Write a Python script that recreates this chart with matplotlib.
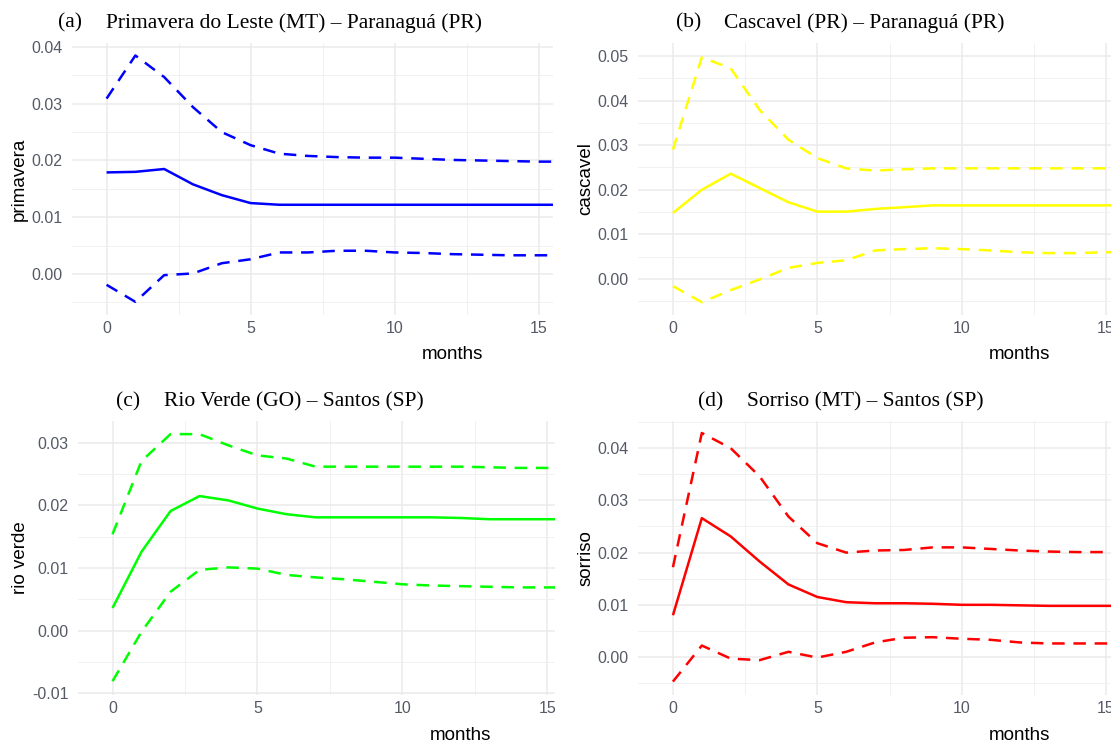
import numpy as np
import matplotlib
matplotlib.use("Agg")
import matplotlib.pyplot as plt
from matplotlib.ticker import MultipleLocator, FuncFormatter

# Data (impulse responses)
months = list(range(17))

a_mid = [0.0179, 0.0180, 0.0185, 0.0158, 0.0139, 0.0125, 0.0122, 0.0122, 0.0122, 0.0122,
         0.0122, 0.0122, 0.0122, 0.0122, 0.0122, 0.0122, 0.0122]
a_up = [0.0309, 0.0385, 0.0347, 0.0294, 0.0250, 0.0227, 0.0212, 0.0208, 0.0206, 0.0205,
        0.0205, 0.0203, 0.0201, 0.0200, 0.0199, 0.0198, 0.0198]
a_lo = [-0.0019, -0.0049, -0.0002, 0.0001, 0.0019, 0.0026, 0.0038, 0.0038, 0.0041, 0.0041,
        0.0038, 0.0037, 0.0035, 0.0034, 0.0033, 0.0033, 0.0033]

b_mid = [0.0148, 0.0200, 0.0236, 0.0204, 0.0172, 0.0151, 0.0151, 0.0157, 0.0161, 0.0165,
         0.0165, 0.0165, 0.0165, 0.0165, 0.0165, 0.0165, 0.0165]
b_up = [0.0290, 0.0497, 0.0472, 0.0379, 0.0312, 0.0271, 0.0248, 0.0243, 0.0246, 0.0248,
        0.0248, 0.0248, 0.0248, 0.0248, 0.0248, 0.0248, 0.0248]
b_lo = [-0.0016, -0.0052, -0.0025, -0.0001, 0.0025, 0.0036, 0.0042, 0.0064, 0.0067, 0.0069,
        0.0067, 0.0064, 0.0060, 0.0058, 0.0058, 0.0060, 0.0060]

c_mid = [0.0036, 0.0126, 0.0191, 0.0215, 0.0208, 0.0195, 0.0186, 0.0181, 0.0181, 0.0181,
         0.0181, 0.0181, 0.0180, 0.0178, 0.0178, 0.0178, 0.0178]
c_up = [0.0154, 0.0271, 0.0314, 0.0314, 0.0296, 0.0280, 0.0275, 0.0262, 0.0262, 0.0262,
        0.0262, 0.0262, 0.0262, 0.0261, 0.0260, 0.0260, 0.0260]
c_lo = [-0.0081, -0.0002, 0.0062, 0.0097, 0.0101, 0.0099, 0.0089, 0.0085, 0.0082, 0.0078,
        0.0074, 0.0072, 0.0071, 0.0070, 0.0069, 0.0069, 0.0069]

d_mid = [0.0080, 0.0266, 0.0231, 0.0183, 0.0139, 0.0115, 0.0105, 0.0103, 0.0103, 0.0102,
         0.0100, 0.0100, 0.0099, 0.0098, 0.0098, 0.0098, 0.0098]
d_up = [0.0172, 0.0429, 0.0400, 0.0346, 0.0269, 0.0218, 0.0200, 0.0204, 0.0205, 0.0210,
        0.0210, 0.0207, 0.0204, 0.0202, 0.0201, 0.0201, 0.0201]
d_lo = [-0.0047, 0.0022, -0.0003, -0.0006, 0.0010, -0.0001, 0.0010, 0.0028, 0.0037, 0.0038,
        0.0035, 0.0033, 0.0028, 0.0026, 0.0026, 0.0026, 0.0026]

W, H = 1111, 740

# letter, title, ylabel, colour, series, panel box in pixels (l, r, top, bottom), xlim, ylim
panels = [
    ("(a)", "Primavera do Leste (MT) \u2013 Paranaguá (PR)", "primavera", "#0000FF",
     (a_mid, a_up, a_lo), (72, 553, 43, 315), (-1.2, 15.5), (-0.00722, 0.0407),
     (58, 106, 23)),
    ("(b)", "Cascavel (PR) \u2013 Paranaguá (PR)", "cascavel", "#FFFF00",
     (b_mid, b_up, b_lo), (638, 1111, 43, 315), (-1.21, 15.17), (-0.00807, 0.0529),
     (676, 724, 23)),
    ("(c)", "Rio Verde (GO) \u2013 Santos (SP)", "rio verde", "#00FF00",
     (c_mid, c_up, c_lo), (78, 555, 421, 695), (-1.19, 15.26), (-0.0103, 0.0335),
     (116, 164, 402)),
    ("(d)", "Sorriso (MT) \u2013 Santos (SP)", "sorriso", "#FF0000",
     (d_mid, d_up, d_lo), (638, 1111, 421, 695), (-1.21, 15.17), (-0.00727, 0.0452),
     (698, 747, 402)),
]

fig = plt.figure(figsize=(W / 100, H / 100), dpi=100)
fig.patch.set_facecolor("white")

for letter, title, ylab, col, series, box, xl, yl, tpos in panels:
    l, r, t, b = box
    ax = fig.add_axes([l / W, 1 - b / H, (r - l) / W, (b - t) / H])
    mid, up, lo = series

    # solid = response, dashed = confidence band
    ax.plot(months, mid, color=col, lw=1.8, solid_capstyle="butt")
    ax.plot(months, up, color=col, lw=1.8, dashes=(5, 3.5))
    ax.plot(months, lo, color=col, lw=1.8, dashes=(5, 3.5))

    ax.set_xlim(*xl)
    ax.set_ylim(*yl)

    # theme_minimal look
    for s in ax.spines.values():
        s.set_visible(False)
    ax.xaxis.set_major_locator(MultipleLocator(5))
    ax.xaxis.set_minor_locator(MultipleLocator(2.5))
    ax.yaxis.set_major_locator(MultipleLocator(0.01))
    ax.yaxis.set_minor_locator(MultipleLocator(0.005))
    ax.yaxis.set_major_formatter(FuncFormatter(lambda v, p: f"{v:.2f}"))
    ax.grid(True, which="major", color="#EBEBEB", lw=1.1)
    ax.grid(True, which="minor", color="#EFEFEF", lw=0.6)
    ax.set_axisbelow(True)
    ax.tick_params(which="both", length=0)
    ax.tick_params(axis="y", pad=7, labelsize=11.5, labelcolor="#555A66")
    ax.tick_params(axis="x", pad=4, labelsize=11.5, labelcolor="#555A66")
    for lab in ax.get_xticklabels() + ax.get_yticklabels():
        lab.set_family("Liberation Sans")

    # axis titles
    ax.set_ylabel(ylab, fontsize=13.5, family="Liberation Sans", labelpad=2)
    ax.set_xlabel("months", fontsize=13.5, family="Liberation Sans")
    ax.xaxis.set_label_coords((12 - xl[0]) / (xl[1] - xl[0]), -0.115)

    # panel titles (serif, like the paper)
    lx, tx, ty = tpos
    fig.text(lx / W, 1 - ty / H, letter, ha="left", va="center",
             family="Liberation Serif", fontsize=15.5)
    fig.text(tx / W, 1 - ty / H, title, ha="left", va="center",
             family="Liberation Serif", fontsize=15.5)

fig.savefig("out.png", dpi=100)
